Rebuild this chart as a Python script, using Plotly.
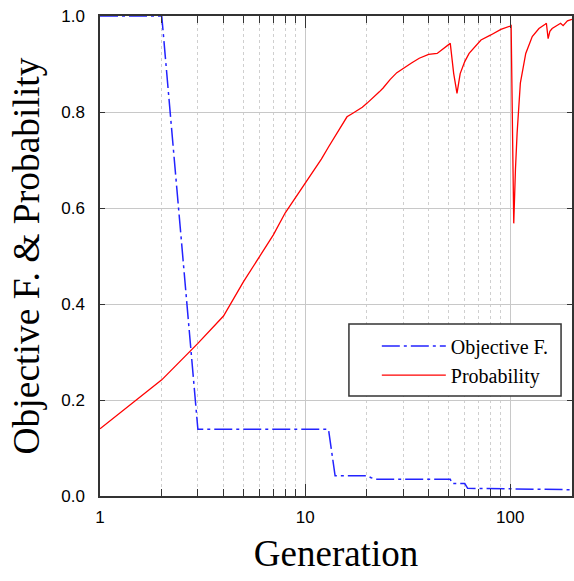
import plotly.graph_objects as go

# ---- data ----
gen_prob = [1, 2, 3, 4, 5, 6, 7, 8, 9, 10, 11, 12, 13, 14, 15, 16, 17, 18, 19, 20,
            21, 22, 23, 24, 26, 28, 30, 33, 36, 40, 44, 47, 50, 51, 53, 55, 57, 60,
            63, 67, 72, 80, 90, 100, 101, 103, 104, 106, 108, 112, 119, 128, 138,
            148, 150, 153, 156, 160, 170, 176, 181, 190, 200]
probability = [0.140, 0.242, 0.318, 0.375, 0.446, 0.500, 0.544, 0.590, 0.623, 0.652,
               0.677, 0.702, 0.727, 0.750, 0.771, 0.790, 0.797, 0.803, 0.810, 0.818,
               0.826, 0.833, 0.842, 0.850, 0.868, 0.882, 0.891, 0.902, 0.912, 0.920,
               0.922, 0.932, 0.942, 0.943, 0.880, 0.839, 0.880, 0.905,
               0.922, 0.936, 0.950, 0.960, 0.972, 0.979, 0.980, 0.700, 0.568, 0.680,
               0.756, 0.860, 0.922, 0.957, 0.974,
               0.983, 0.985, 0.953, 0.968, 0.974, 0.980, 0.985, 0.980, 0.990, 0.993]

gen_obj = [1, 2, 3, 13, 14, 20, 21, 22, 51, 52, 60, 62, 100, 150, 200]
objective = [1.0, 1.0, 0.139, 0.139, 0.042, 0.042, 0.038, 0.035, 0.035, 0.026,
             0.026, 0.016, 0.015, 0.013, 0.013]

x_major = [1, 10, 100]
x_major_text = ["1", "10", "100"]
x_minor = [2, 3, 4, 5, 6, 7, 8, 9, 20, 30, 40, 50, 60, 70, 80, 90]
y_ticks = [0.0, 0.2, 0.4, 0.6, 0.8, 1.0]

SANS = "Liberation Sans, Arial, sans-serif"
SERIF = "Liberation Serif, Times New Roman, serif"

fig = go.Figure()
fig.add_trace(go.Scatter(
    x=gen_obj, y=objective, mode="lines", name="Objective F.",
    line=dict(color="#2323ff", width=1.5, dash="18px,4px,3px,4px"),
))
fig.add_trace(go.Scatter(
    x=gen_prob, y=probability, mode="lines", name="Probability",
    line=dict(color="#ff0000", width=1.3),
))

# legend frame (white box behind the legend entries)
fig.add_shape(type="rect", xref="paper", yref="paper",
              x0=0.5274, x1=0.9768, y0=0.2083, y1=0.3583,
              line=dict(color="#333333", width=1.5), fillcolor="white",
              layer="above")

fig.update_layout(
    width=574, height=581,
    margin=dict(l=100, r=0, t=16, b=85),
    paper_bgcolor="white", plot_bgcolor="white",
    showlegend=True,
    legend=dict(
        x=0.5865, y=0.353, xanchor="left", yanchor="top",
        bgcolor="rgba(0,0,0,0)", borderwidth=0,
        font=dict(family=SERIF, size=20, color="black"),
        itemwidth=64,
    ),
)

fig.update_xaxes(
    type="log", range=[0, 2.301],
    tickmode="array", tickvals=x_major, ticktext=x_major_text,
    ticks="inside", ticklen=12, tickwidth=1.3, tickcolor="#333333",
    showline=True, linecolor="#333333", linewidth=1.5, mirror="ticks",
    showgrid=True, gridcolor="#c8c8c8", gridwidth=1.3,
    tickfont=dict(family=SANS, size=17, color="black"),
    ticklabelstandoff=5,
    minor=dict(tickmode="array", tickvals=x_minor, ticks="inside", ticklen=7,
               tickwidth=1.3, tickcolor="#333333",
               showgrid=True, gridcolor="#cfcfcf", griddash="dot", gridwidth=1),
    title=dict(text="Generation", font=dict(family=SERIF, size=37, color="black"),
               standoff=14),
    zeroline=False,
)
fig.update_yaxes(
    range=[0, 1.0],
    tickmode="array", tickvals=y_ticks, tickformat=".1f",
    ticks="inside", ticklen=5, tickwidth=1.3, tickcolor="#333333",
    showline=True, linecolor="#333333", linewidth=1.5, mirror="ticks",
    showgrid=True, gridcolor="#c8c8c8", gridwidth=1.3,
    tickfont=dict(family=SANS, size=17, color="black"),
    ticklabelstandoff=10,
    title=dict(text="Objective F. & Probability",
               font=dict(family=SERIF, size=37.5, color="black"), standoff=10),
    zeroline=False,
)

fig.write_html("out.html")
